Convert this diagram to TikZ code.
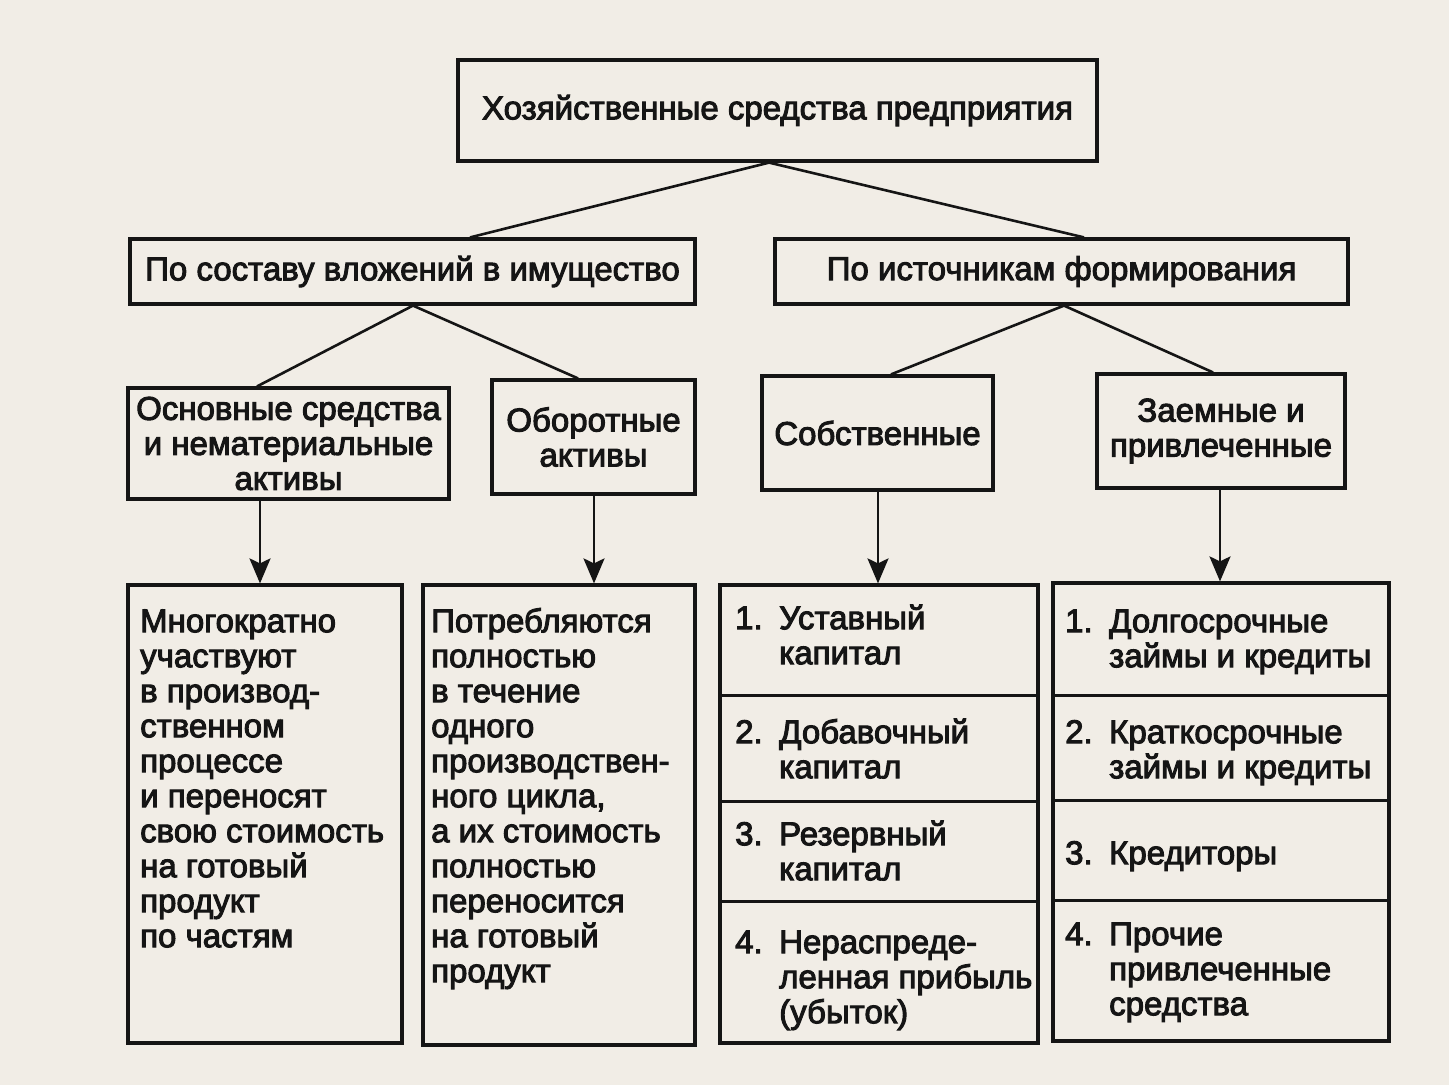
\documentclass[tikz,border=0pt]{standalone}
\usepackage{fontspec}
\usetikzlibrary{arrows.meta}
\newfontfamily\df[FakeBold=3]{Liberation Sans}
\definecolor{paper}{HTML}{F1EDE6}
\definecolor{ink}{HTML}{151515}
\tikzset{
  box/.style={draw=ink, line width=3.2pt, inner sep=0pt, align=center, text=ink,
    font=\df\fontsize{33}{35}\selectfont},
  lbl/.style={inner sep=0pt, anchor=north west, align=left, text=ink,
    font=\df\fontsize{33}{35}\selectfont},
  link/.style={draw=ink, line width=2.6pt},
  divider/.style={draw=ink, line width=3pt},
  arr/.style={draw=ink, line width=2.6pt, -{Stealth[length=25pt,width=21pt,inset=5pt]}}
}
\begin{document}
\begin{tikzpicture}[x=1pt,y=-1pt]
\fill[paper] (0,0) rectangle (1449,1085);
\useasboundingbox (0,0) rectangle (1449,1085);

\node[box, minimum width=639pt, minimum height=101pt] (top) at (777.5,110.5) {Хозяйственные средства предприятия};
\node[box, minimum width=565pt, minimum height=65pt] (L2a) at (412.5,271.5) {По составу вложений в имущество};
\node[box, minimum width=573pt, minimum height=65pt] (L2b) at (1061.5,271.5) {По источникам формирования};

\node[box, minimum width=321pt, minimum height=111pt] (A) at (288.5,443.5) {Основные средства\\и нематериальные\\активы};
\node[box, minimum width=203pt, minimum height=114pt] (B) at (593.5,437) {Оборотные\\активы};
\node[box, minimum width=231pt, minimum height=114pt] (C) at (877.5,433) {Собственные};
\node[box, minimum width=248pt, minimum height=114pt] (D) at (1221,431) {Заемные и\\привлеченные};

\node[box, minimum width=274pt, minimum height=458pt] (E) at (265,814) {};
\node[box, minimum width=272pt, minimum height=460pt] (F) at (559,815) {};
\node[box, minimum width=318pt, minimum height=458pt] (G) at (879,814) {};
\node[box, minimum width=336pt, minimum height=458pt] (H) at (1221,812) {};

% dividers
\draw[divider] (G.north west) ++(0,112) -- ++(318,0);
\draw[divider] (G.north west) ++(0,218) -- ++(318,0);
\draw[divider] (G.north west) ++(0,318) -- ++(318,0);
\draw[divider] (H.north west) ++(0,114) -- ++(336,0);
\draw[divider] (H.north west) ++(0,219) -- ++(336,0);
\draw[divider] (H.north west) ++(0,319) -- ++(336,0);

% connectors
\draw[link] ([xshift=-8.5pt]top.south) -- ([xshift=57.5pt]L2a.north);
\draw[link] ([xshift=-8.5pt]top.south) -- ([xshift=22.5pt]L2b.north);
\draw[link] ([xshift=0.5pt]L2a.south) -- ([xshift=-31.5pt]A.north);
\draw[link] ([xshift=0.5pt]L2a.south) -- ([xshift=-15.5pt]B.north);
\draw[link] ([xshift=2.5pt]L2b.south) -- ([xshift=13.5pt]C.north);
\draw[link] ([xshift=2.5pt]L2b.south) -- ([xshift=-8pt]D.north);

\draw[arr] ([xshift=-28.5pt]A.south) -- ([xshift=-5pt]E.north);
\draw[arr] ([xshift=0.5pt]B.south) -- ([xshift=35pt]F.north);
\draw[arr] ([xshift=0.5pt]C.south) -- ([xshift=-1pt]G.north);
\draw[arr] ([xshift=-1pt]D.south) -- ([xshift=-1pt]H.north);

% texts
\node[lbl] (Et) at (140,607.5) {\strut Многократно\\участвуют\\в производ-\\ственном\\процессе\\и переносят\\свою стоимость\\на готовый\\продукт\\по частям};
\node[lbl] (Ft) at (431,607.5) {\strut Потребляются\\полностью\\в течение\\одного\\производствен-\\ного цикла,\\а их стоимость\\полностью\\переносится\\на готовый\\продукт};

\node[lbl] (G1n) at (735,604.5) {\strut 1.};
\node[lbl] (G1t) at (779,604.5) {\strut Уставный\\капитал};
\node[lbl] (G2n) at (735,718.5) {\strut 2.};
\node[lbl] (G2t) at (779,718.5) {\strut Добавочный\\капитал};
\node[lbl] (G3n) at (735,820.5) {\strut 3.};
\node[lbl] (G3t) at (779,820.5) {\strut Резервный\\капитал};
\node[lbl] (G4n) at (735,928.5) {\strut 4.};
\node[lbl] (G4t) at (779,928.5) {\strut Нераспреде-\\ленная прибыль\\(убыток)};

\node[lbl] (H1n) at (1065,607.5) {\strut 1.};
\node[lbl] (H1t) at (1109,607.5) {\strut Долгосрочные\\займы и кредиты};
\node[lbl] (H2n) at (1065,718.5) {\strut 2.};
\node[lbl] (H2t) at (1109,718.5) {\strut Краткосрочные\\займы и кредиты};
\node[lbl] (H3n) at (1065,839.5) {\strut 3.};
\node[lbl] (H3t) at (1109,839.5) {\strut Кредиторы};
\node[lbl] (H4n) at (1065,920.5) {\strut 4.};
\node[lbl] (H4t) at (1109,920.5) {\strut Прочие\\привлеченные\\средства};
\end{tikzpicture}
\end{document}
